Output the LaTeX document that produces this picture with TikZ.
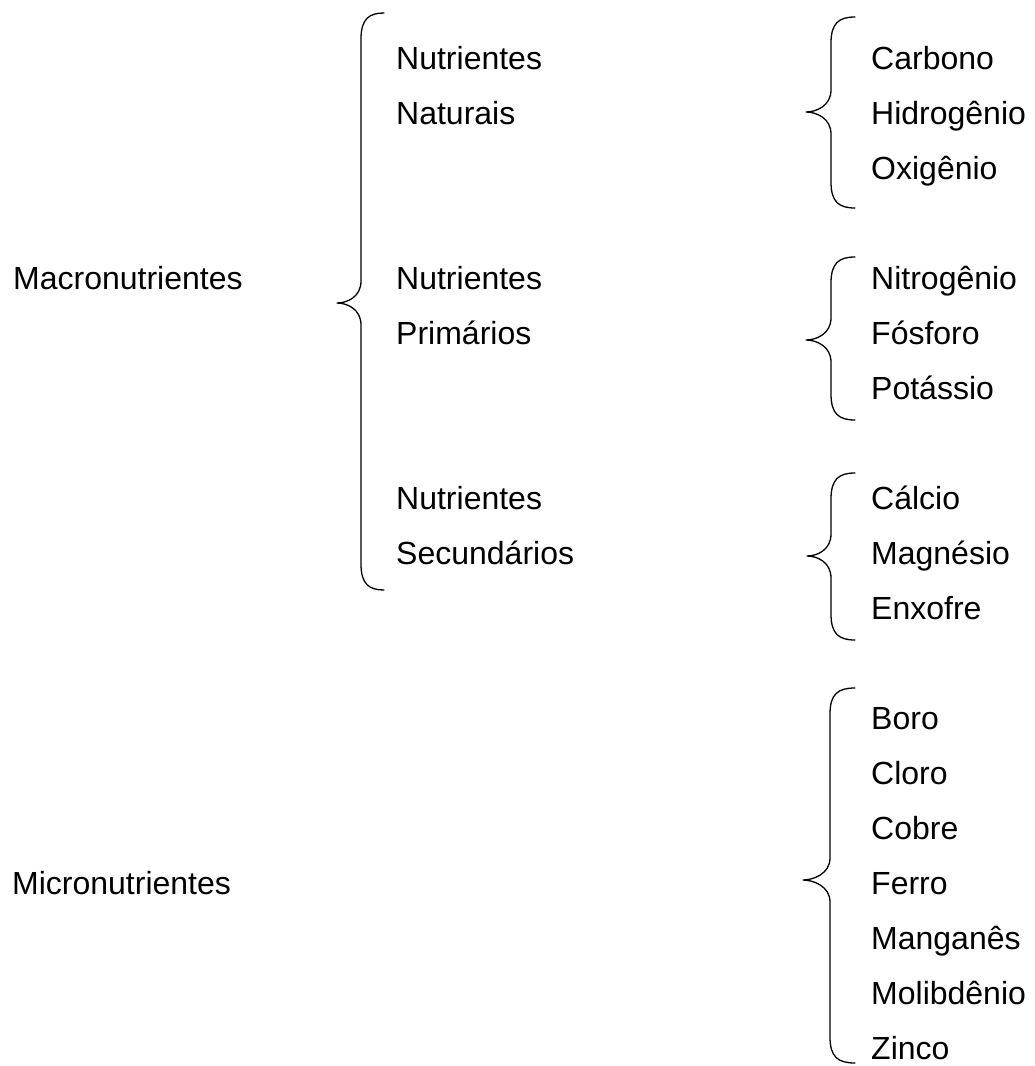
\documentclass[tikz,border=0pt]{standalone}
\usepackage{fontspec}
\setmainfont{Liberation Sans}
\newcommand{\DrawBrace}[6]{% #1 end x, #2 vertical x, #3 tip x, #4 top y, #5 tip y, #6 bottom y
  \draw[bracestyle] (#1,#4) .. controls ({#2+8},#4) and (#2,{#4+6}) .. (#2,{#4+26})
    -- (#2,{#5-22}) .. controls (#2,{#5-6}) and ({#3+10},#5) .. (#3,#5)
    .. controls ({#3+10},#5) and (#2,{#5+6}) .. (#2,{#5+22})
    -- (#2,{#6-26}) .. controls (#2,{#6-6}) and ({#2+8},#6) .. (#1,#6);}
\begin{document}
\begin{tikzpicture}[x=1pt,y=-1pt,
  lbl/.style={anchor=base west, inner sep=0pt, font=\fontsize{32}{38}\selectfont},
  bracestyle/.style={line width=1.3pt, line join=round, line cap=round}]
\useasboundingbox (0,0) rectangle (1035,1066);

% left labels
\node[lbl] (macro) at (13,289) {Macronutrientes};
\node[lbl] (micro) at (12,894) {Micronutrientes};

% middle column
\node[lbl] (nat1) at (396,69)  {Nutrientes};
\node[lbl] (nat2) at (396,124) {Naturais};
\node[lbl] (pri1) at (396,289) {Nutrientes};
\node[lbl] (pri2) at (396,344) {Primários};
\node[lbl] (sec1) at (396,509) {Nutrientes};
\node[lbl] (sec2) at (396,564) {Secundários};

% right column
\node[lbl] (c)  at (871,69)   {Carbono};
\node[lbl] (h)  at (871,124)  {Hidrogênio};
\node[lbl] (o)  at (871,179)  {Oxigênio};
\node[lbl] (n)  at (871,289)  {Nitrogênio};
\node[lbl] (p)  at (871,344)  {Fósforo};
\node[lbl] (k)  at (871,399)  {Potássio};
\node[lbl] (ca) at (871,509)  {Cálcio};
\node[lbl] (mg) at (871,564)  {Magnésio};
\node[lbl] (s)  at (871,619)  {Enxofre};
\node[lbl] (b)  at (871,729)  {Boro};
\node[lbl] (cl) at (871,784)  {Cloro};
\node[lbl] (cu) at (871,839)  {Cobre};
\node[lbl] (fe) at (871,894)  {Ferro};
\node[lbl] (mn) at (871,949)  {Manganês};
\node[lbl] (mo) at (871,1004) {Molibdênio};
\node[lbl] (zn) at (871,1059) {Zinco};

% braces
\DrawBrace{384}{361}{337}{13}{303}{590}
\DrawBrace{855}{831}{806}{17}{112}{208}
\DrawBrace{855}{831}{806}{257}{340}{420}
\DrawBrace{855}{831}{807}{473}{556}{640}
\DrawBrace{855}{830}{803}{688}{880}{1063}
\end{tikzpicture}
\end{document}
